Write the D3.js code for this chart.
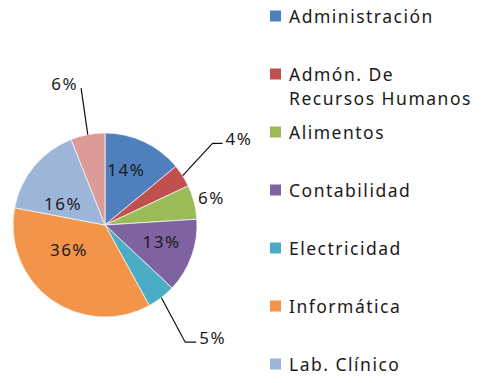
<!DOCTYPE html>
<html>
<head>
<meta charset="utf-8">
<script src="https://cdn.jsdelivr.net/npm/d3@7"></script>
<style>
  body { margin: 0; background: #fff; overflow: hidden; }
  text { font-family: "Noto Sans", "Open Sans", sans-serif; fill: #1a1a1a; }
</style>
</head>
<body>
<div id="chart"></div>
<script>
// carreras y porcentaje de estudiantes
const categories = [
  "Administración",
  "Admón. De Recursos Humanos",
  "Alimentos",
  "Contabilidad",
  "Electricidad",
  "Informática",
  "Lab. Clínico",
  "Otros"
];
const values = [14, 4, 6, 13, 5, 36, 16, 6];
const legendLines = [
  ["Administración"],
  ["Admón. De", "Recursos Humanos"],
  ["Alimentos"],
  ["Contabilidad"],
  ["Electricidad"],
  ["Informática"],
  ["Lab. Clínico"],
  ["Otros"]
];

const colors = ["#4f7fbc", "#c0504d", "#9bbb59", "#7f63a1", "#4bacc6", "#f39449", "#9db5d9", "#dc9a98"];

// label placement per slice (radius in px, angle nudge in degrees)
const labelLayout = [
  { kind: "in", r: 59, da: -4 },
  { kind: "leader", r: 135, a: 52.8, tail: 10 },
  { kind: "out", r: 110, da: 0 },
  { kind: "in", r: 59, da: -3 },
  { kind: "leader", r: 142, a: 145.6, tail: 11 },
  { kind: "in", r: 44, da: 19 },
  { kind: "in", r: 47, da: -13 },
  { kind: "leader", r: 139, a: 350.1, tail: 0, left: true }
];

window.onload = function () {
  const width = 487, height = 383;
  const cx = 105, cy = 225, radius = 92;

  const svg = d3.select("#chart").append("svg")
    .attr("width", width)
    .attr("height", height);

  const pie = d3.pie().sort(null).value((d) => d);
  const arcs = pie(values);
  const arc = d3.arc().innerRadius(0).outerRadius(radius);

  const g = svg.append("g").attr("transform", `translate(${cx},${cy})`);

  g.selectAll("path")
    .data(arcs)
    .enter()
    .append("path")
    .attr("d", arc)
    .attr("fill", (d, i) => colors[i])
    .attr("stroke", "#f4f4f4")
    .attr("stroke-width", 0.8);

  // polar helper, angle from 12 o'clock clockwise
  const polar = (r, a) => [r * Math.sin(a), -r * Math.cos(a)];
  const deg = Math.PI / 180;

  arcs.forEach((d, i) => {
    const lay = labelLayout[i];
    const mid = (d.startAngle + d.endAngle) / 2;
    const label = values[i] + "%";

    if (lay.kind === "in" || lay.kind === "out") {
      const [x, y] = polar(lay.r, mid + lay.da * deg);
      g.append("text")
        .attr("x", x)
        .attr("y", y)
        .attr("dy", "0.36em")
        .attr("text-anchor", "middle")
        .attr("font-size", "17px")
        .attr("letter-spacing", "1.5px")
        .text(label);
    } else {
      const p0 = polar(radius, mid);
      const p1 = polar(lay.r, lay.a * deg);
      const p2 = [p1[0] + lay.tail, p1[1]];
      g.append("polyline")
        .attr("points", [p0, p1, p2].map((p) => p.join(",")).join(" "))
        .attr("fill", "none")
        .attr("stroke", "#111")
        .attr("stroke-width", 1.2);
      g.append("text")
        .attr("x", lay.left ? p1[0] - 3 : p2[0] + 3)
        .attr("y", p1[1] + 2)
        .attr("text-anchor", lay.left ? "end" : "start")
        .attr("font-size", "17px")
        .attr("letter-spacing", "1.5px")
        .text(label);
    }
  });

  // ==== LEGEND ====
  const legendY = d3.scaleLinear().domain([0, 1]).range([16, 74]);

  // only the entries that fit in the picture
  const shown = categories.map((c, i) => i).filter((i) => legendY(i) + 10 < height);

  const legend = svg.append("g").attr("transform", "translate(270,0)");

  const items = legend.selectAll("g")
    .data(shown)
    .enter()
    .append("g")
    .attr("transform", (i) => `translate(0,${legendY(i)})`);

  items.append("rect")
    .attr("x", 0)
    .attr("y", -5.5)
    .attr("width", 11)
    .attr("height", 11)
    .attr("fill", (i) => colors[i]);

  items.each(function (i) {
    const t = d3.select(this).append("text")
      .attr("x", 19)
      .attr("y", 0)
      .attr("font-size", "17.5px")
      .attr("letter-spacing", "1.5px");
    legendLines[i].forEach((line, j) => {
      t.append("tspan")
        .attr("x", 19)
        .attr("dy", j === 0 ? "0.38em" : "24px")
        .text(line);
    });
  });
};
</script>
</body>
</html>
